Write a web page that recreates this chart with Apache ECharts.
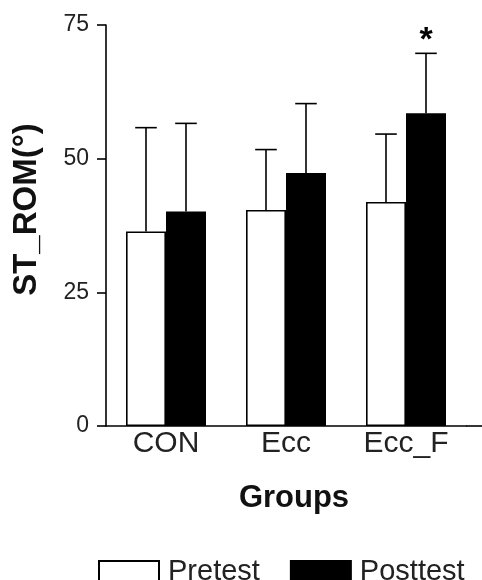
<!DOCTYPE html>
<html>
<head>
<meta charset="utf-8">
<script src="https://cdn.jsdelivr.net/npm/echarts@6/dist/echarts.min.js"></script>
<style>
html,body{margin:0;padding:0;background:#fff;}
#chart{width:482px;height:580px;}
</style>
</head>
<body>
<div id="chart"></div>
<script>
var categories = ['CON', 'Ecc', 'Ecc_F'];
var pretest = [36.4, 40.4, 41.9];
var posttest = [40.1, 47.3, 58.5];
var pretestSD = [19.4, 11.3, 12.7];
var posttestSD = [16.5, 13.0, 11.2];
var posttestMarks = ['', '', '*'];
var yTicks = [0, 25, 50, 75];

var FONT = 'Liberation Sans, Arial, sans-serif';
var chart = echarts.init(document.getElementById('chart'), null, {renderer: 'canvas'});

function errorRender(sign, marks) {
  return function (params, api) {
    var x = api.value(0), mean = api.value(1), sd = api.value(2);
    var band = api.size([1, 0])[0];
    var barW = band * (1 - 1 / 3) / 2;
    var base = api.coord([x, mean]);
    var top = api.coord([x, mean + sd]);
    var cx = base[0] + sign * barW / 2;
    var capHalf = barW * 0.27;
    var style = {stroke: '#000', lineWidth: 1.6};
    var children = [
      {type: 'line', shape: {x1: cx, y1: base[1], x2: cx, y2: top[1]}, style: style},
      {type: 'line', shape: {x1: cx - capHalf, y1: top[1], x2: cx + capHalf, y2: top[1]}, style: style}
    ];
    var m = marks ? marks[params.dataIndex] : '';
    if (m) {
      children.push({
        type: 'text',
        style: {text: m, x: cx, y: top[1] + 4, align: 'center', verticalAlign: 'bottom',
          font: 'bold 34px ' + FONT, fill: '#000'}
      });
    }
    return {type: 'group', children: children};
  };
}

var option = {
  animation: false,
  backgroundColor: '#fff',
  grid: {left: 106, right: 16, top: 25, bottom: 154},
  legend: {
    data: ['Pretest', 'Posttest'],
    left: 98, top: 557, padding: 0,
    itemWidth: 60, itemHeight: 21, itemGap: 30,
    icon: 'rect',
    textStyle: {fontFamily: FONT, fontSize: 29, color: '#222', padding: [0, 0, 0, 4]}
  },
  xAxis: {
    type: 'category',
    data: categories,
    name: 'Groups',
    nameLocation: 'middle',
    nameGap: 57,
    nameTextStyle: {fontFamily: FONT, fontSize: 31, fontWeight: 'bold', color: '#111', padding: [0, 0, 0, 16]},
    axisLine: {lineStyle: {color: '#000', width: 1.6}},
    axisTick: {show: false},
    axisLabel: {fontFamily: FONT, fontSize: 30, color: '#222', margin: 3}
  },
  yAxis: {
    type: 'value',
    min: 0, max: 75, interval: 25,
    name: 'ST_ROM(°)',
    nameLocation: 'middle',
    nameGap: 63,
    nameTextStyle: {fontFamily: FONT, fontSize: 33, fontWeight: 'bold', color: '#111', padding: [0, 0, 0, 32]},
    splitLine: {show: false},
    axisLine: {show: true, lineStyle: {color: '#000', width: 1.6}},
    axisTick: {show: true, length: 9, lineStyle: {color: '#000', width: 1.6}},
    axisLabel: {fontFamily: FONT, fontSize: 23, color: '#222', margin: 17,
      customValues: yTicks}
  },
  series: [
    {
      name: 'Pretest', type: 'bar', data: pretest,
      barGap: '0%', barCategoryGap: '33.33%',
      itemStyle: {color: '#fff', borderColor: '#000', borderWidth: 1.6}
    },
    {
      name: 'Posttest', type: 'bar', data: posttest,
      barGap: '0%', barCategoryGap: '33.33%',
      itemStyle: {color: '#000', borderColor: '#000', borderWidth: 1.6}
    },
    {
      name: 'PretestSD', type: 'custom', z: 5,
      renderItem: errorRender(-1, null),
      data: pretest.map(function (v, i) { return [i, v, pretestSD[i]]; })
    },
    {
      name: 'PosttestSD', type: 'custom', z: 5,
      renderItem: errorRender(1, posttestMarks),
      data: posttest.map(function (v, i) { return [i, v, posttestSD[i]]; })
    }
  ]
};
chart.setOption(option);

// extend the x axis baseline to the right edge as in the reference
var y0 = chart.convertToPixel({yAxisIndex: 0}, 0);
chart.setOption({
  graphic: [{
    type: 'line', z: 10,
    shape: {x1: chart.getWidth() - 16, y1: y0, x2: chart.getWidth(), y2: y0},
    style: {stroke: '#000', lineWidth: 1.6}
  }]
});
</script>
</body>
</html>
